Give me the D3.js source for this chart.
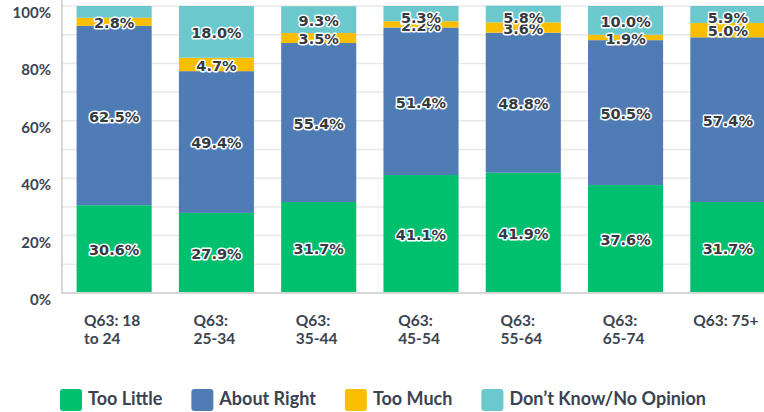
<!DOCTYPE html>
<html><head><meta charset="utf-8">
<script src="https://cdn.jsdelivr.net/npm/d3@7/dist/d3.min.js"></script>
<style>
html,body{margin:0;padding:0;background:#fff;}
svg{display:block;}
</style></head>
<body>
<svg id="chart" width="764" height="412"></svg>
<script>
const categories = ["Q63: 18 to 24","Q63: 25-34","Q63: 35-44","Q63: 45-54","Q63: 55-64","Q63: 65-74","Q63: 75+"];
const categoryLines = [["Q63: 18","to 24"],["Q63:","25-34"],["Q63:","35-44"],["Q63:","45-54"],["Q63:","55-64"],["Q63:","65-74"],["Q63: 75+"]];
const seriesNames = ["Too Little","About Right","Too Much","Don\u2019t Know/No Opinion"];
const tooLittle  = [30.6, 27.9, 31.7, 41.1, 41.9, 37.6, 31.7];
const aboutRight = [62.5, 49.4, 55.4, 51.4, 48.8, 50.5, 57.4];
const tooMuch    = [2.8, 4.7, 3.5, 2.2, 3.6, 1.9, 5.0];
const dontKnow   = [4.1, 18.0, 9.3, 5.3, 5.8, 10.0, 5.9];
const showLabel  = [[true,true,true,true,true,true,true],[true,true,true,true,true,true,true],[true,true,true,true,true,true,true],[false,true,true,true,true,true,true]];
const yTicks = [0,20,40,60,80,100];
const colors = ["#00bf6f","#507cb6","#f9be00","#6bc8cd"];

const svg = d3.select("#chart");
const textColor = "#3b4350";
const fontMain = "Lato, 'Noto Sans', sans-serif";

const x0 = 62, yBottom = 293, yTop = 6;
const x = d3.scaleBand().domain(categories).range([63, 779]).paddingInner(0.266).paddingOuter(0.133);
const y = d3.scaleLinear().domain([0,100]).range([yBottom, yTop]);

// gridlines every 10%
const gridVals = d3.range(10, 101, 10);
svg.append("g").selectAll("line").data(gridVals).join("line")
  .attr("x1", x0).attr("x2", 764).attr("y1", d=>y(d)).attr("y2", d=>y(d))
  .attr("stroke", "#e8e8e8").attr("stroke-width", 1.5);

// stacked data
const seriesArrays = [tooLittle, aboutRight, tooMuch, dontKnow];
const rows = categories.map((c,i)=>{ const o={cat:c,i:i}; seriesNames.forEach((s,k)=>o[s]=seriesArrays[k][i]); return o; });
const stack = d3.stack().keys(seriesNames)(rows);

const gBars = svg.append("g");
stack.forEach((layer,k)=>{
  gBars.append("g").attr("fill", colors[k]).selectAll("rect").data(layer).join("rect")
    .attr("x", d=>x(d.data.cat)).attr("width", x.bandwidth())
    .attr("y", d=>y(d[1])).attr("height", d=>y(d[0])-y(d[1]));
});

// axes lines
svg.append("line").attr("x1", x0).attr("x2", x0).attr("y1", 0).attr("y2", yBottom+1).attr("stroke","#d6d6d6").attr("stroke-width",2);
svg.append("line").attr("x1", x0).attr("x2", 764).attr("y1", yBottom).attr("y2", yBottom).attr("stroke","#d6d6d6").attr("stroke-width",2);

// y tick labels
svg.append("g").selectAll("text").data(yTicks).join("text")
  .attr("x", 51).attr("y", d=>y(d)+12)
  .attr("text-anchor","end").attr("font-family", fontMain).attr("font-weight","700")
  .attr("font-size", 15).attr("fill", textColor).text(d=>d+"%");

// value labels
const gLab = svg.append("g");
stack.forEach((layer,k)=>{
  layer.forEach((d,i)=>{
    if(!showLabel[k][i]) return;
    let cy = (y(d[0])+y(d[1]))/2 + 1;
    cy = Math.max(cy, 18);
    gLab.append("text")
      .attr("x", x(d.data.cat)+x.bandwidth()/2).attr("y", cy).attr("dy","0.36em")
      .attr("text-anchor","middle").attr("font-family","'DejaVu Sans', sans-serif").attr("font-weight","700")
      .attr("font-size", 14.5).attr("fill", "#333a44")
      .attr("stroke","#ffffff").attr("stroke-width",3).attr("stroke-linejoin","round")
      .attr("paint-order","stroke")
      .text(seriesArrays[k][i].toFixed(1)+"%");
  });
});

// x labels
const gX = svg.append("g");
categories.forEach((c,i)=>{
  const t = gX.append("text").attr("font-family", fontMain).attr("font-weight","700")
    .attr("font-size", 15.5).attr("fill", textColor);
  categoryLines[i].forEach((ln,j)=>{
    t.append("tspan").attr("y", 326 + j*18).text(ln);
  });
  let maxW = 0;
  t.selectAll("tspan").each(function(){ maxW = Math.max(maxW, this.getComputedTextLength()); });
  const cx = x(c)+x.bandwidth()/2 - 2;
  t.selectAll("tspan").attr("x", cx - maxW/2);
});

// legend
const gL = svg.append("g");
let lx = 60;
seriesNames.forEach((s,k)=>{
  gL.append("rect").attr("x", lx).attr("y", 389).attr("width", 22).attr("height", 22).attr("rx", 3).attr("fill", colors[k]);
  const t = gL.append("text").attr("x", lx+28).attr("y", 405).attr("font-family", fontMain)
    .attr("font-weight","700").attr("font-size", 18).attr("fill", textColor).text(s);
  lx = lx + 28 + t.node().getComputedTextLength() + 29;
});
</script>
</body></html>
